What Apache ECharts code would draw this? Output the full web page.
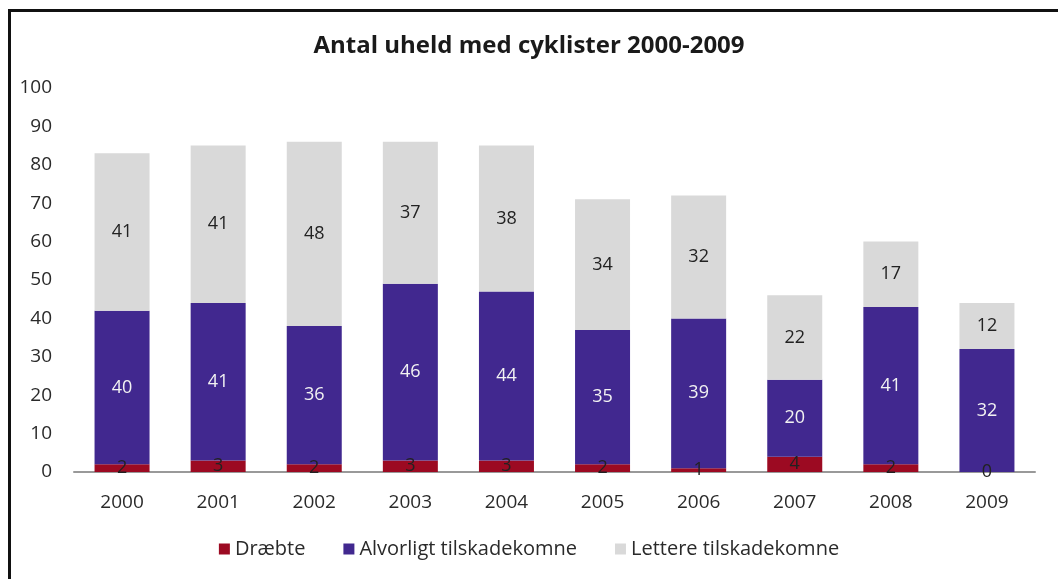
<!DOCTYPE html>
<html>
<head>
<meta charset="utf-8">
<script src="https://cdn.jsdelivr.net/npm/echarts@6/dist/echarts.min.js"></script>
<style>
  html, body { margin: 0; padding: 0; background: #fff; }
  #frame { position: absolute; left: 8px; top: 9px; right: 0; bottom: 0;
           border-top: 3px solid #111; border-left: 3px solid #111; }
  #chart { position: absolute; left: 0; top: 0; width: 1058px; height: 579px; }
</style>
</head>
<body>
<div id="frame"></div>
<div id="chart"></div>
<script>
// Cyclist accidents per year, split by severity
const years = ['2000', '2001', '2002', '2003', '2004', '2005', '2006', '2007', '2008', '2009'];
const killed = [2, 3, 2, 3, 3, 2, 1, 4, 2, 0];
const seriouslyInjured = [40, 41, 36, 46, 44, 35, 39, 20, 41, 32];
const slightlyInjured = [41, 41, 48, 37, 38, 34, 32, 22, 17, 12];
const seriesNames = ['Dræbte', 'Alvorligt tilskadekomne', 'Lettere tilskadekomne'];
const yTicks = [0, 10, 20, 30, 40, 50, 60, 70, 80, 90, 100];

const FONT = '"Open Sans", sans-serif';
const chart = echarts.init(document.getElementById('chart'), null, { renderer: 'canvas' });

function barSeries(name, data, color, labelColor) {
  return {
    name: name,
    type: 'bar',
    stack: 'total',
    data: data,
    barWidth: 55,
    itemStyle: { color: color },
    label: {
      show: true,
      position: 'inside',
      color: labelColor,
      fontFamily: FONT,
      fontSize: 18
    }
  };
}

chart.setOption({
  animation: false,
  title: {
    text: 'Antal uheld med cyklister 2000-2009',
    left: 'center',
    top: 29,
    textStyle: { fontFamily: FONT, fontWeight: 'bold', fontSize: 24, color: '#1a1a1a' }
  },
  legend: {
    data: seriesNames,
    bottom: 15,
    left: 'center',
    itemWidth: 11,
    itemHeight: 11,
    itemGap: 38,
    icon: 'rect',
    textStyle: { fontFamily: FONT, fontSize: 20, color: '#2a2a2a' }
  },
  grid: { left: 74, right: 23, top: 88, bottom: 107, containLabel: false },
  xAxis: {
    type: 'category',
    data: years,
    axisLine: { lineStyle: { color: '#999', width: 2 } },
    axisTick: { show: false },
    axisLabel: { fontFamily: FONT, fontSize: 19, color: '#2a2a2a', margin: 21 }
  },
  yAxis: {
    type: 'value',
    min: yTicks[0],
    max: yTicks[yTicks.length - 1],
    interval: 10,
    splitLine: { show: false },
    axisLine: { show: false },
    axisTick: { show: false },
    axisLabel: { fontFamily: FONT, fontSize: 19, color: '#2a2a2a', margin: 22 }
  },
  series: [
    barSeries(seriesNames[0], killed, '#9c0a22', '#222'),
    barSeries(seriesNames[1], seriouslyInjured, '#41288f', '#f2f2f2'),
    barSeries(seriesNames[2], slightlyInjured, '#d9d9d9', '#222')
  ]
});
</script>
</body>
</html>
